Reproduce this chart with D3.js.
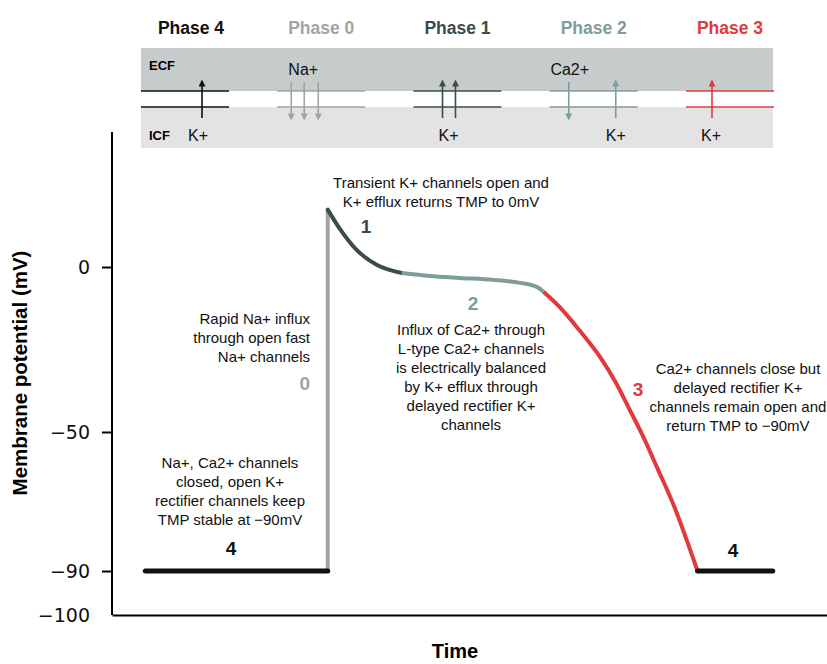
<!DOCTYPE html>
<html>
<head>
<meta charset="utf-8">
<script src="https://cdn.jsdelivr.net/npm/d3@7"></script>
<style>
  body { margin: 0; background: #fff; }
  text { font-family: "Liberation Sans", Arial, sans-serif; }
</style>
</head>
<body>
<div id="svgcontainer"></div>
<script>
var width = 827;
var height = 664;

// time in ms (0 = upstroke), potential in mV
var phase4a_t = [-148, 0];
var phase4a_v = [-90, -90];
var phase0_t = [0, 0];
var phase0_v = [-90, 17];
var phase1_t = [0, 10, 23, 40, 60];
var phase1_v = [17, 11.2, 5.2, 0.6, -1.8];
var phase2_t = [60, 83, 107, 134, 156, 170, 175];
var phase2_v = [-1.8, -2.7, -3.3, -3.9, -4.8, -6.1, -7.5];
var phase3_t = [175, 188, 204, 221, 234, 245, 256, 267, 280, 300];
var phase3_v = [-7.5, -12.1, -19.1, -27.3, -35.2, -43.3, -51.4, -60.1, -70.5, -90];
var phase4b_t = [300, 361];
var phase4b_v = [-90, -90];

var yTicks = [0, -50, -90, -100];
var phaseNames = ["Phase 4", "Phase 0", "Phase 1", "Phase 2", "Phase 3"];
var phaseColors = ["#111111", "#a3a3a3", "#3a4d4b", "#7e9c9b", "#e03a3c"];

// arrows in the membrane sketch: [phase index, offset, direction]
var arrows = [[0, 17, "up"], [1, -30, "down"], [1, -17, "down"], [1, -3, "down"],
              [2, -15, "up"], [2, -2, "up"], [3, -25, "down"], [3, 22, "up"], [4, -18, "up"]];
// ion labels: [phase index, offset, side, text]
var ions = [[0, 13, "icf", "K+"], [1, -18, "ecf", "Na+"], [2, -9, "icf", "K+"],
            [3, -24, "ecf", "Ca2+"], [3, 22, "icf", "K+"], [4, -19, "icf", "K+"]];

var svg = d3.select("#svgcontainer")
   .append("svg")
   .attr("width", width)
   .attr("height", height);

var x = d3.scaleLinear().domain([-175, 405]).range([112, 827]);
var y = d3.scaleLinear().domain([-100, -90, -50, 0, 40]).range([615, 571, 432, 267, 132]);

// ---- membrane sketch on top ----
var px = d3.scalePoint().domain(d3.range(5)).range([185, 730]);

svg.append("rect").attr("x", 141).attr("y", 48).attr("width", 632).attr("height", 43).attr("fill", "#c6cccb");
svg.append("rect").attr("x", 141).attr("y", 107).attr("width", 632).attr("height", 41).attr("fill", "#e3e3e3");
svg.append("text").attr("x", 149).attr("y", 70).attr("font-size", 13).attr("font-weight", "bold").text("ECF");
svg.append("text").attr("x", 149).attr("y", 140).attr("font-size", 13).attr("font-weight", "bold").text("ICF");

var defs = svg.append("defs");
phaseColors.forEach(function(c, i) {
   defs.append("marker")
      .attr("id", "ah" + i)
      .attr("viewBox", "0 0 10 10")
      .attr("refX", 2).attr("refY", 5)
      .attr("markerWidth", 9).attr("markerHeight", 7)
      .attr("markerUnits", "userSpaceOnUse")
      .attr("orient", "auto")
      .append("path").attr("d", "M0,0 L10,5 L0,10 z").attr("fill", c);
});

var cols = svg.selectAll("g.phase")
   .data(phaseNames)
   .enter()
   .append("g")
   .attr("class", "phase");

cols.append("text")
   .attr("x", function(d, i) { return i == 0 ? px(i) + 6 : px(i); })
   .attr("y", 34)
   .attr("text-anchor", "middle")
   .attr("font-size", 17.5)
   .attr("font-weight", "bold")
   .attr("fill", function(d, i) { return phaseColors[i]; })
   .text(function(d) { return d; });

[91, 107].forEach(function(ly) {
   cols.append("line")
      .attr("x1", function(d, i) { return px(i) - 44; })
      .attr("x2", function(d, i) { return px(i) + 44; })
      .attr("y1", ly).attr("y2", ly)
      .attr("stroke", function(d, i) { return phaseColors[i]; })
      .attr("stroke-width", 1.6);
});

svg.selectAll("line.arrow")
   .data(arrows)
   .enter()
   .append("line")
   .attr("class", "arrow")
   .attr("x1", function(d) { return px(d[0]) + d[1]; })
   .attr("x2", function(d) { return px(d[0]) + d[1]; })
   .attr("y1", function(d) { return d[2] == "up" ? 118 : 82; })
   .attr("y2", function(d) { return d[2] == "up" ? 85 : 115; })
   .attr("stroke", function(d) { return phaseColors[d[0]]; })
   .attr("stroke-width", 1.6)
   .attr("marker-end", function(d) { return "url(#ah" + d[0] + ")"; });

svg.selectAll("text.ion")
   .data(ions)
   .enter()
   .append("text")
   .attr("class", "ion")
   .attr("x", function(d) { return px(d[0]) + d[1]; })
   .attr("y", function(d) { return d[2] == "ecf" ? 75 : 141; })
   .attr("text-anchor", "middle")
   .attr("font-size", 16)
   .attr("fill", "#111")
   .text(function(d) { return d[3]; });

// ---- axes ----
var yAxis = d3.axisLeft(y)
   .tickValues(yTicks)
   .tickSize(10)
   .tickSizeOuter(0)
   .tickFormat(d3.format("d"));

var gy = svg.append("g").attr("transform", "translate(112,0)").call(yAxis);
gy.select(".domain").attr("d", "M0," + y(40) + "V" + y(-100)).attr("stroke-width", 2);
gy.selectAll(".tick line").attr("stroke-width", 2)
   .attr("display", function(d) { return d == -100 ? "none" : null; });
gy.selectAll(".tick text")
   .style("font-size", "19px")
   .style("font-family", "'DejaVu Sans', sans-serif")
   .attr("fill", "#111")
   .attr("x", -22);

var xAxis = d3.axisBottom(x).tickValues([]).tickSizeOuter(0);
var gx = svg.append("g").attr("transform", "translate(0," + y(-100) + ")").call(xAxis);
gx.select(".domain").attr("stroke-width", 2);

svg.append("text")
   .attr("transform", "translate(27,373) rotate(-90)")
   .attr("text-anchor", "middle")
   .attr("font-size", 20.5)
   .attr("font-weight", "bold")
   .text("Membrane potential (mV)");

svg.append("text")
   .attr("x", 455).attr("y", 658)
   .attr("text-anchor", "middle")
   .attr("font-size", 20)
   .attr("font-weight", "bold")
   .text("Time");

// ---- action potential trace ----
function pts(t, v) { return t.map(function(d, i) { return [d, v[i]]; }); }

var line = d3.line()
   .x(function(d) { return x(d[0]); })
   .y(function(d) { return y(d[1]); })
   .curve(d3.curveMonotoneX);
var straight = d3.line()
   .x(function(d) { return x(d[0]); })
   .y(function(d) { return y(d[1]); });

var segs = [
   { p: pts(phase0_t, phase0_v), c: phaseColors[1], w: 4, f: straight, cap: "butt" },
   { p: pts(phase1_t, phase1_v), c: phaseColors[2], w: 4, f: line, cap: "round" },
   { p: pts(phase2_t, phase2_v), c: phaseColors[3], w: 4, f: line, cap: "butt" },
   { p: pts(phase3_t, phase3_v), c: phaseColors[4], w: 4, f: line, cap: "butt" },
   { p: pts(phase4a_t, phase4a_v), c: phaseColors[0], w: 5, f: straight, cap: "round" },
   { p: pts(phase4b_t, phase4b_v), c: phaseColors[0], w: 5, f: straight, cap: "round" }
];

svg.selectAll("path.trace")
   .data(segs)
   .enter()
   .append("path")
   .attr("class", "trace")
   .attr("d", function(d) { return d.f(d.p); })
   .attr("fill", "none")
   .attr("stroke", function(d) { return d.c; })
   .attr("stroke-width", function(d) { return d.w; })
   .attr("stroke-linecap", function(d) { return d.cap; });

// ---- annotations ----
var notes = [
   { x: 441, y: 188, a: "middle", lines: ["Transient K+ channels open and", "K+ efflux returns TMP to 0mV"] },
   { x: 310, y: 324, a: "end", lines: ["Rapid Na+ influx", "through open fast", "Na+ channels"] },
   { x: 230, y: 468, a: "middle", lines: ["Na+, Ca2+ channels", "closed, open K+", "rectifier channels keep", "TMP stable at \u221290mV"] },
   { x: 471, y: 335, a: "middle", lines: ["Influx of Ca2+ through", "L-type Ca2+ channels", "is electrically balanced", "by K+ efflux through", "delayed rectifier K+", "channels"] },
   { x: 738, y: 374, a: "middle", lines: ["Ca2+ channels close but", "delayed rectifier K+", "channels remain open and", "return TMP to \u221290mV"] }
];

notes.forEach(function(n) {
   var t = svg.append("text")
      .attr("x", n.x).attr("y", n.y)
      .attr("text-anchor", n.a)
      .attr("font-size", 15)
      .attr("fill", "#111");
   n.lines.forEach(function(l, i) {
      t.append("tspan").attr("x", n.x).attr("dy", i == 0 ? 0 : 19).text(l);
   });
});

var nums = [
   { x: 366, y: 233, t: "1", c: phaseColors[2], a: "middle" },
   { x: 473, y: 310, t: "2", c: phaseColors[3], a: "middle" },
   { x: 310, y: 390, t: "0", c: phaseColors[1], a: "end" },
   { x: 231, y: 555, t: "4", c: phaseColors[0], a: "middle" },
   { x: 638, y: 396, t: "3", c: phaseColors[4], a: "middle" },
   { x: 733, y: 557, t: "4", c: phaseColors[0], a: "middle" }
];

svg.selectAll("text.num")
   .data(nums)
   .enter()
   .append("text")
   .attr("class", "num")
   .attr("x", function(d) { return d.x; })
   .attr("y", function(d) { return d.y; })
   .attr("text-anchor", function(d) { return d.a; })
   .attr("font-size", 19)
   .attr("font-weight", "bold")
   .attr("fill", function(d) { return d.c; })
   .text(function(d) { return d.t; });
</script>
</body>
</html>
